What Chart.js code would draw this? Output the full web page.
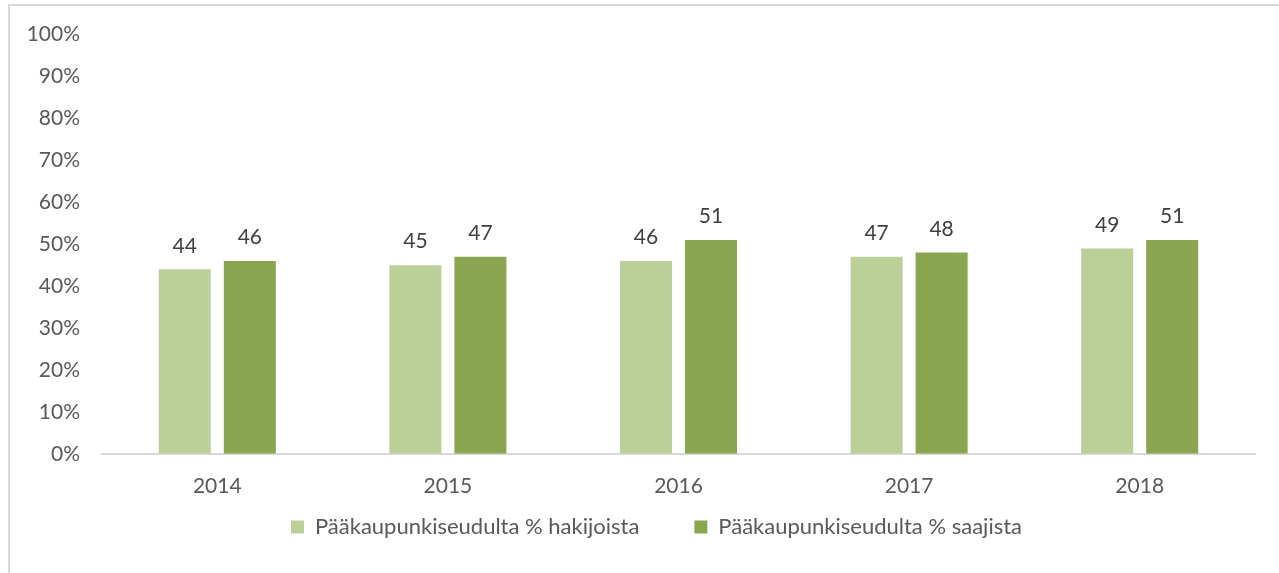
<!DOCTYPE html>
<html>
<head>
<meta charset="utf-8">
<script src="https://cdn.jsdelivr.net/npm/chart.js@4"></script>
<style>
  html, body { margin: 0; padding: 0; background: #fff; overflow: hidden; }
  #wrap { position: relative; width: 1279px; height: 573px; }
  #frame { position: absolute; left: 8px; top: 4px; width: 1400px; height: 700px;
           border-top: 2px solid #d9d9d9; border-left: 2px solid #d9d9d9; }
  #wrap canvas { position: absolute; left: 0; top: 0; }
</style>
</head>
<body>
<div id="wrap">
  <div id="frame"></div>
  <canvas id="chart" width="1279" height="573"></canvas>
</div>
<script>
const years = ['2014', '2015', '2016', '2017', '2018'];
const hakijoista = [44, 45, 46, 47, 49];
const saajista = [46, 47, 51, 48, 51];
const seriesNames = ['Pääkaupunkiseudulta % hakijoista', 'Pääkaupunkiseudulta % saajista'];

const FONT = 'Lato, "Open Sans", sans-serif';
const GREY = '#595959';

// numbers above each bar
const barValues = {
  id: 'barValues',
  afterDatasetsDraw(chart) {
    const ctx = chart.ctx;
    ctx.save();
    ctx.font = '21px ' + FONT;
    ctx.fillStyle = '#404040';
    ctx.textAlign = 'center';
    ctx.textBaseline = 'bottom';
    chart.data.datasets.forEach((ds, i) => {
      chart.getDatasetMeta(i).data.forEach((bar, j) => {
        ctx.fillText(ds.data[j], bar.x, bar.y - 13);
      });
    });
    ctx.restore();
  }
};

// wide gap between legend items needs big padding, so keep the box short
// in layout and move it afterwards
const legendBox = {
  id: 'legendBox',
  beforeLayout(chart) {
    const lg = chart.legend;
    if (lg && !lg._short) {
      const fit = lg.fit;
      lg.fit = function () { fit.call(this); this.height = 54; };
      lg._short = true;
    }
  },
  afterLayout(chart) {
    const lg = chart.legend;
    lg.top -= 58;
    lg.bottom = chart.height;
    lg.left += 29;
    lg.right += 29;
  }
};

new Chart(document.getElementById('chart'), {
  type: 'bar',
  data: {
    labels: years,
    datasets: [
      { label: seriesNames[0], data: hakijoista, backgroundColor: '#bbd098' },
      { label: seriesNames[1], data: saajista, backgroundColor: '#8aa650' }
    ]
  },
  options: {
    responsive: false,
    animation: false,
    categoryPercentage: 0.564,
    barPercentage: 0.8,
    layout: { padding: { top: 25, right: 24, left: 0, bottom: 0 } },
    plugins: {
      tooltip: { enabled: false },
      legend: {
        position: 'bottom',
        labels: {
          boxWidth: 13,
          boxHeight: 13,
          padding: 55,
          color: GREY,
          font: { family: FONT, size: 22 }
        }
      }
    },
    scales: {
      x: {
        grid: { display: false, drawTicks: false },
        border: { display: true, color: '#d9d9d9', width: 2 },
        ticks: { color: GREY, font: { family: FONT, size: 21 }, padding: 20 }
      },
      y: {
        min: 0,
        max: 100,
        grid: { display: false, drawTicks: false },
        border: { display: false },
        ticks: {
          stepSize: 10,
          color: GREY,
          font: { family: FONT, size: 21 },
          padding: 22,
          callback: v => v + '%'
        },
        afterFit(scale) { scale.width = 102; }
      }
    }
  },
  plugins: [barValues, legendBox]
});
</script>
</body>
</html>
